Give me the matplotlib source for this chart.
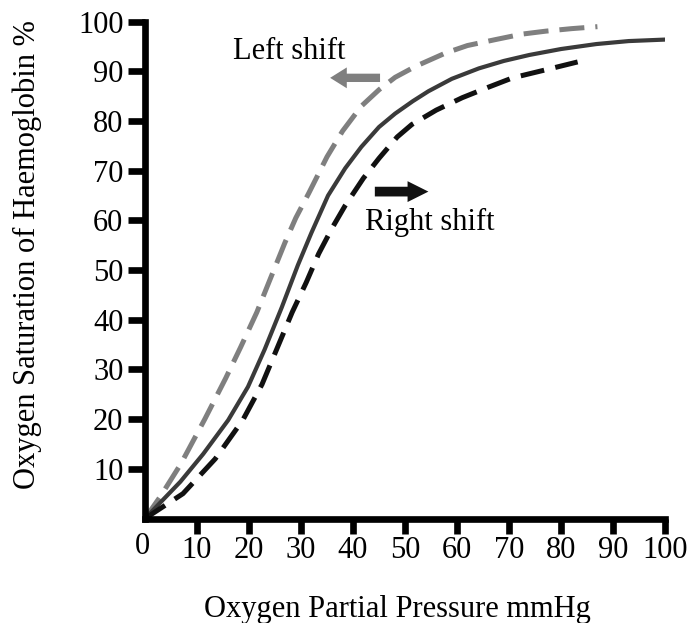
import matplotlib.pyplot as plt

plt.rcParams['font.family'] = ['Liberation Serif', 'DejaVu Serif']

# values
normal_x = [0, 6.8, 11.2, 16, 19.8, 23, 26.3, 29.4, 32, 35.2, 38.5, 41.6, 45, 48.1,
            51.5, 54.5, 59, 64.2, 69, 73.9, 80, 86.8, 93, 100]
normal_y = [0, 7.4, 13.0, 19.8, 26.5, 34, 42.5, 51, 57.5, 65, 70.5, 74.8, 78.8, 81.5,
            84, 86, 88.5, 90.6, 92.1, 93.3, 94.5, 95.5, 96.1, 96.4]

left_x = [0, 3, 6.9, 11.5, 15.5, 18.4, 21.5, 24, 26.9, 29, 31.5, 35, 38, 41.6, 45,
          48.1, 52, 57.8, 62, 67.4, 72.5, 77.1, 82, 87]
left_y = [0, 4.5, 11, 20, 28.2, 34.5, 41.5, 48, 55.5, 60.5, 65.5, 72.8, 78, 83, 86.3,
          88.8, 91, 93.7, 95.2, 96.4, 97.5, 98.1, 98.6, 99]

right_x = [0, 7.3, 13.5, 18.8, 22.5, 25.5, 28.3, 31, 33.4, 36, 38.5, 42, 45, 48.5,
           51.3, 56, 61, 66, 70.7, 77, 83.2]
right_y = [0, 5, 12, 19.8, 27, 34.5, 41.5, 47.5, 53.3, 58.5, 63, 68.5, 72.5, 76.8,
           79.3, 82.2, 84.7, 86.8, 88.7, 90.3, 91.9]

x_ticks = [10, 20, 30, 40, 50, 60, 70, 80, 90, 100]
y_ticks = [10, 20, 30, 40, 50, 60, 70, 80, 90, 100]

W, H = 697, 623
fig = plt.figure(figsize=(W / 100, H / 100), dpi=100)
ax = fig.add_axes([145 / W, 1 - 518.5 / H, 520 / W, (518.5 - 21.7) / H])

ax.plot(left_x, left_y, color='#7f7f7f', lw=3.6, dashes=(5, 2.2))
ax.plot(normal_x, normal_y, color='#3a3a3a', lw=3.0)
ax.plot(right_x, right_y, color='#111111', lw=3.6, dashes=(4.8, 2.3))

# shift arrows
ax.annotate('', xy=(35.6, 88.7), xytext=(45.2, 88.7),
            arrowprops=dict(arrowstyle='simple,head_length=1.2,head_width=1.5,tail_width=0.6',
                            color='#7f7f7f', lw=0, mutation_scale=10, shrinkA=0, shrinkB=0))
ax.annotate('', xy=(54.5, 65.8), xytext=(44.2, 65.8),
            arrowprops=dict(arrowstyle='simple,head_length=1.5,head_width=1.5,tail_width=0.7',
                            color='#111111', lw=0, mutation_scale=10, shrinkA=0, shrinkB=0))

ax.text(16.9, 92.4, 'Left shift', fontsize=22, va='baseline', ha='left')
ax.text(42.3, 58.1, 'Right shift', fontsize=22, va='baseline', ha='left')

ax.set_xlim(0, 100)
ax.set_ylim(0, 100)
ax.set_xticks(x_ticks)
ax.set_yticks(y_ticks)
ax.tick_params(axis='both', direction='out', width=4.8, labelsize=22, color='black')
ax.tick_params(axis='x', length=10.5, pad=2)
ax.tick_params(axis='y', length=12, pad=3.5)

for side in ['top', 'right']:
    ax.spines[side].set_visible(False)
for side in ['left', 'bottom']:
    ax.spines[side].set_linewidth(4.8)

fig.text(142.5 / W, 1 - 546.7 / H, '0', fontsize=22, ha='center', va='center')
fig.text(397.5 / W, 1 - 617 / H, 'Oxygen Partial Pressure mmHg', fontsize=22,
         ha='center', va='baseline')
fig.text(27 / W, 1 - 255 / H, 'Oxygen Saturation of Haemoglobin %', fontsize=22,
         rotation=90, ha='center', va='center')

fig.savefig('out.png', dpi=100)
